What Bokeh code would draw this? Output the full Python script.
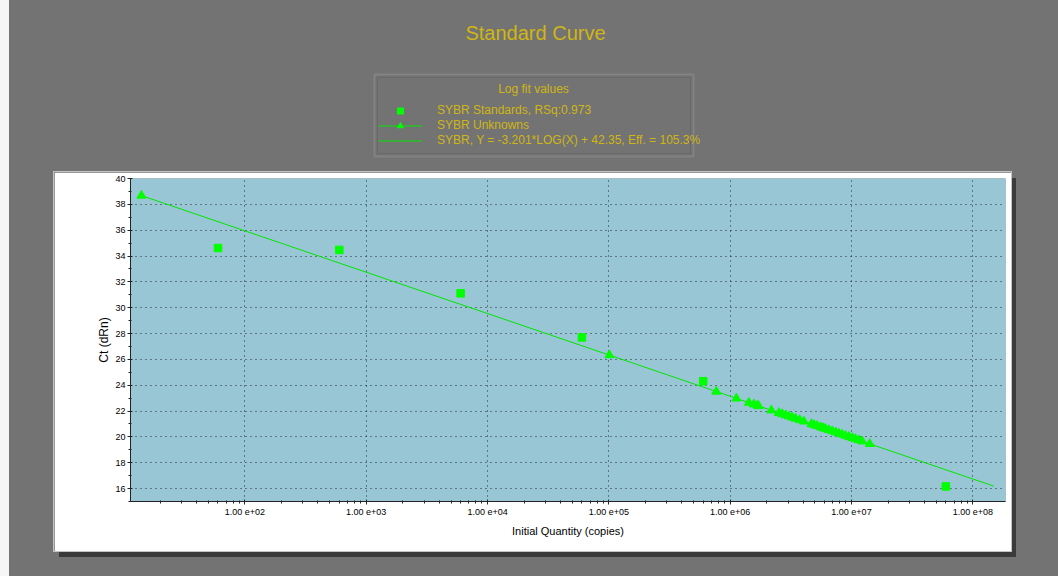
import math

from bokeh.plotting import figure
from bokeh.layouts import column, row
from bokeh.models import (BoxAnnotation, Label, Legend, LegendItem, FixedTicker,
                          SingleIntervalTicker, CustomJSTickFormatter, Range1d,
                          Spacer)
from bokeh.embed import file_html
from bokeh.resources import INLINE

# ---- data -------------------------------------------------------------
# standards: known input quantity (copies) and measured Ct
std_qty = [6.0e1, 6.0e2, 6.0e3, 6.0e4, 6.0e5, 6.0e7]
std_ct = [34.62, 34.47, 31.11, 27.70, 24.31, 16.17]

# unknowns: measured Ct; quantity is read back through the standard curve
unk_ct = [38.68, 26.33, 23.51, 22.98, 22.65, 22.52, 22.43, 22.39, 22.06,
          21.86, 21.77, 21.68, 21.60, 21.51, 21.42, 21.31, 21.20, 21.00,
          20.93, 20.85, 20.76, 20.69, 20.63, 20.54, 20.45, 20.36, 20.28,
          20.19, 20.10, 20.01, 19.92, 19.84, 19.75, 19.66, 19.46]

# log fit of the standards
fit_slope = -3.201
fit_intercept = 42.35
fit_rsq = 0.973
fit_eff = 105.3
fit_qty_span = [14.05, 1.49e8]

decade_ticks = [1e2, 1e3, 1e4, 1e5, 1e6, 1e7, 1e8]

unk_qty = [10 ** ((c - fit_intercept) / fit_slope) for c in unk_ct]
fit_ct = [fit_slope * math.log10(q) + fit_intercept for q in fit_qty_span]

# ---- styling ----------------------------------------------------------
BG = "#737373"
PLOT_BG = "#99c6d5"
GOLD = "#cfb614"
GREEN = "#00ff00"
LINE_GREEN = "#00e600"
FONT = "Liberation Sans"
NARROW = "Liberation Sans Narrow, Liberation Sans"

# ---- header: title and legend (pixel coordinates, y down) -------------
head = figure(width=1058, height=172, x_range=Range1d(0, 1058),
              y_range=Range1d(172, 0), output_backend="svg",
              toolbar_location=None, min_border=0,
              x_axis_location=None, y_axis_location=None,
              border_fill_color=None, background_fill_color=None,
              outline_line_color=None)
head.xgrid.visible = False
head.ygrid.visible = False

head.add_layout(Label(x=535, y=32, text="Standard Curve", text_align="center",
                      text_baseline="middle", text_font=FONT,
                      text_font_size="20px", text_color=GOLD))

# legend frame (light outer edge, dark inner edge)
head.add_layout(BoxAnnotation(left=374, right=693, top=74, bottom=156,
                              fill_alpha=0, line_color="#a4a4a4", line_width=2))
head.add_layout(BoxAnnotation(left=377, right=690, top=77, bottom=153,
                              fill_alpha=0, line_color="#4e4e4e", line_width=1))
head.add_layout(Label(x=533, y=88, text="Log fit values", text_align="center",
                      text_baseline="middle", text_font=FONT,
                      text_font_size="12px", text_color=GOLD))

# legend keys: glyph styles only, no visible points of their own
nan = [float("nan")]
k_std = head.scatter(nan, nan, marker="square", fill_color=GREEN, line_color=GREEN)
k_unk = head.scatter(nan, nan, marker="triangle", fill_color=GREEN, line_color=GREEN)
k_fit = head.line(nan, nan, line_color=LINE_GREEN, line_width=1)

legend = Legend(items=[
    LegendItem(label=f"SYBR Standards, RSq:{fit_rsq}", renderers=[k_std]),
    LegendItem(label="SYBR Unknowns", renderers=[k_fit, k_unk]),
    LegendItem(label=f"SYBR, Y = {fit_slope}*LOG(X) + {fit_intercept}, "
                     f"Eff. = {fit_eff}%", renderers=[k_fit]),
], location=(378, 24.5), padding=0, margin=0, spacing=0,
    glyph_width=44, glyph_height=15, label_height=15, label_standoff=15,
    border_line_color=None, background_fill_alpha=0,
    label_text_font=FONT, label_text_font_size="12px",
    label_text_color=GOLD, label_text_baseline="middle")
head.add_layout(legend, "center")

# ---- chart panel ------------------------------------------------------
p = figure(width=957, height=379, x_axis_type="log",
           x_range=Range1d(11.4, 1.86e8), y_range=Range1d(15, 40),
           output_backend="svg", toolbar_location=None,
           min_border_left=76, min_border_right=6,
           min_border_top=6, min_border_bottom=50,
           border_fill_color="white", background_fill_color=PLOT_BG,
           outline_line_color=None,
           styles={"box-shadow": "0 0 0 1px #c4c4c4, 5px 6px 0 0 #3b3b3b"})

r_fit = p.line(fit_qty_span, fit_ct, line_color=LINE_GREEN, line_width=1)
r_unk = p.scatter(unk_qty, unk_ct, marker="triangle", size=9,
                  fill_color=GREEN, line_color=GREEN)
r_std = p.scatter(std_qty, std_ct, marker="square", size=7.5,
                  fill_color=GREEN, line_color=GREEN)

minor = [m * 10 ** d for d in range(1, 9) for m in range(2, 10)]
p.xaxis.ticker = FixedTicker(ticks=decade_ticks, minor_ticks=minor)
p.xaxis.formatter = CustomJSTickFormatter(code="""
    const e = Math.round(Math.log10(tick));
    return "1.00 e+" + (e < 10 ? "0" + e : e);
""")
p.yaxis.ticker = SingleIntervalTicker(interval=2, num_minor_ticks=2)

for ax in (p.xaxis, p.yaxis):
    ax.axis_line_color = "#222222"
    ax.major_tick_line_color = "#222222"
    ax.minor_tick_line_color = "#222222"
    ax.major_tick_out = 3
    ax.major_tick_in = 2
    ax.minor_tick_out = 2
    ax.minor_tick_in = 1
    ax.major_label_text_color = "black"
    ax.axis_label_text_color = "black"
    ax.axis_label_text_font_style = "normal"

p.xaxis.major_label_text_font = NARROW
p.xaxis.major_label_text_font_size = "9px"
p.xaxis.major_label_standoff = 2
p.xaxis.axis_label = "Initial Quantity (copies)"
p.xaxis.axis_label_text_font = NARROW
p.xaxis.axis_label_text_font_size = "11px"
p.xaxis.axis_label_standoff = 5

p.yaxis.major_label_text_font = FONT
p.yaxis.major_label_text_font_size = "9px"
p.yaxis.major_label_standoff = 2
p.yaxis.axis_label = "Ct (dRn)"
p.yaxis.axis_label_text_font = FONT
p.yaxis.axis_label_text_font_size = "12px"
p.yaxis.axis_label_standoff = 1

p.xgrid.ticker = FixedTicker(ticks=decade_ticks)
for g in (p.xgrid, p.ygrid):
    g.grid_line_color = "black"
    g.grid_line_alpha = 0.8
    g.grid_line_dash = "1 4"
    g.grid_line_width = 1

# ---- page layout ------------------------------------------------------
body = row(Spacer(width=54, height=379), p, Spacer(width=47, height=379))
page = column(head, body, Spacer(width=1058, height=25),
              styles={"background": "linear-gradient(to right, #f6f6f6 0px, "
                                    "#f6f6f6 9px, " + BG + " 9px, " + BG + " 100%)"})

open("out.html", "w").write(file_html(page, INLINE))
